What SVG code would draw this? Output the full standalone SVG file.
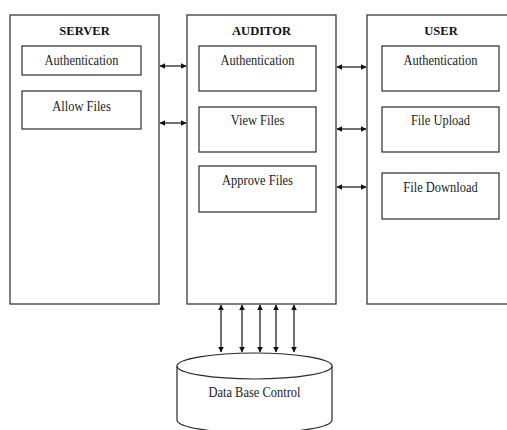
<svg xmlns="http://www.w3.org/2000/svg" width="507" height="430" viewBox="0 0 507 430">
  <style>
    .panel { fill: #fff; stroke: #3a3a3a; stroke-width: 1.3; }
    .box { fill: #fff; stroke: #2a2a2a; stroke-width: 1.2; }
    .title { font-family: "Liberation Serif", "Times New Roman", serif; font-weight: bold; font-size: 13.5px; fill: #111; text-anchor: middle; }
    .label { font-family: "Liberation Serif", "Times New Roman", serif; font-size: 14px; fill: #222; text-anchor: middle; }
    .link { stroke: #111; stroke-width: 1.2; fill: none; marker-start: url(#head); marker-end: url(#head); }
  </style>
  <defs>
    <marker id="head" viewBox="0 0 10 10" refX="9" refY="5" markerWidth="6" markerHeight="6" orient="auto-start-reverse" markerUnits="userSpaceOnUse">
      <path d="M0,0 L10,5 L0,10 Z" fill="#111"/>
    </marker>
  </defs>
  <rect width="507" height="430" fill="#fff"/>

  <!-- labels use a narrow horizontal scale to get the condensed serif look -->
  <g id="server">
    <rect class="panel" x="10" y="15" width="149" height="289"/>
    <text class="title" transform="translate(84.5,35) scale(0.93,1)">SERVER</text>
    <g id="server-auth">
      <rect class="box" x="22" y="46" width="119" height="29"/>
      <text class="label" transform="translate(81.5,65) scale(0.89,1)">Authentication</text>
    </g>
    <g id="server-allow">
      <rect class="box" x="22" y="91" width="119" height="38"/>
      <text class="label" transform="translate(81.5,111) scale(0.89,1)">Allow Files</text>
    </g>
  </g>

  <g id="auditor">
    <rect class="panel" x="187" y="15" width="149" height="289"/>
    <text class="title" transform="translate(261.5,35) scale(0.93,1)">AUDITOR</text>
    <g id="auditor-auth">
      <rect class="box" x="199" y="46" width="117" height="45"/>
      <text class="label" transform="translate(257.5,65) scale(0.89,1)">Authentication</text>
    </g>
    <g id="auditor-view">
      <rect class="box" x="199" y="107" width="117" height="45"/>
      <text class="label" transform="translate(257.5,125) scale(0.89,1)">View Files</text>
    </g>
    <g id="auditor-approve">
      <rect class="box" x="199" y="166" width="117" height="46"/>
      <text class="label" transform="translate(257.5,185) scale(0.89,1)">Approve Files</text>
    </g>
  </g>

  <g id="user">
    <rect class="panel" x="367" y="15" width="150" height="289"/>
    <text class="title" transform="translate(441,35) scale(0.93,1)">USER</text>
    <g id="user-auth">
      <rect class="box" x="382" y="46" width="117" height="45"/>
      <text class="label" transform="translate(440.5,65) scale(0.89,1)">Authentication</text>
    </g>
    <g id="user-upload">
      <rect class="box" x="382" y="107" width="117" height="45"/>
      <text class="label" transform="translate(440.5,125) scale(0.89,1)">File Upload</text>
    </g>
    <g id="user-download">
      <rect class="box" x="382" y="173" width="117" height="46"/>
      <text class="label" transform="translate(440.5,192) scale(0.89,1)">File Download</text>
    </g>
  </g>

  <g id="database">
    <!-- cylinder body: straight sides closed by the lower half of an ellipse -->
    <path class="box" d="M177,366 L177,420 A77.5,13 0 0 0 332,420 L332,366"/>
    <ellipse class="box" cx="254.5" cy="366" rx="77.5" ry="13"/>
    <text class="label" transform="translate(254.5,397) scale(0.89,1)">Data Base Control</text>
  </g>

  <g id="connectors">
    <line class="link" x1="160" y1="66" x2="186" y2="66"/>
    <line class="link" x1="160" y1="123" x2="186" y2="123"/>
    <line class="link" x1="337" y1="67" x2="366" y2="67"/>
    <line class="link" x1="337" y1="129" x2="366" y2="129"/>
    <line class="link" x1="337" y1="187" x2="366" y2="187"/>
    <line class="link" x1="221" y1="305" x2="221" y2="352"/>
    <line class="link" x1="242" y1="305" x2="242" y2="352"/>
    <line class="link" x1="260" y1="305" x2="260" y2="352"/>
    <line class="link" x1="276" y1="305" x2="276" y2="352"/>
    <line class="link" x1="294" y1="305" x2="294" y2="352"/>
  </g>
</svg>
